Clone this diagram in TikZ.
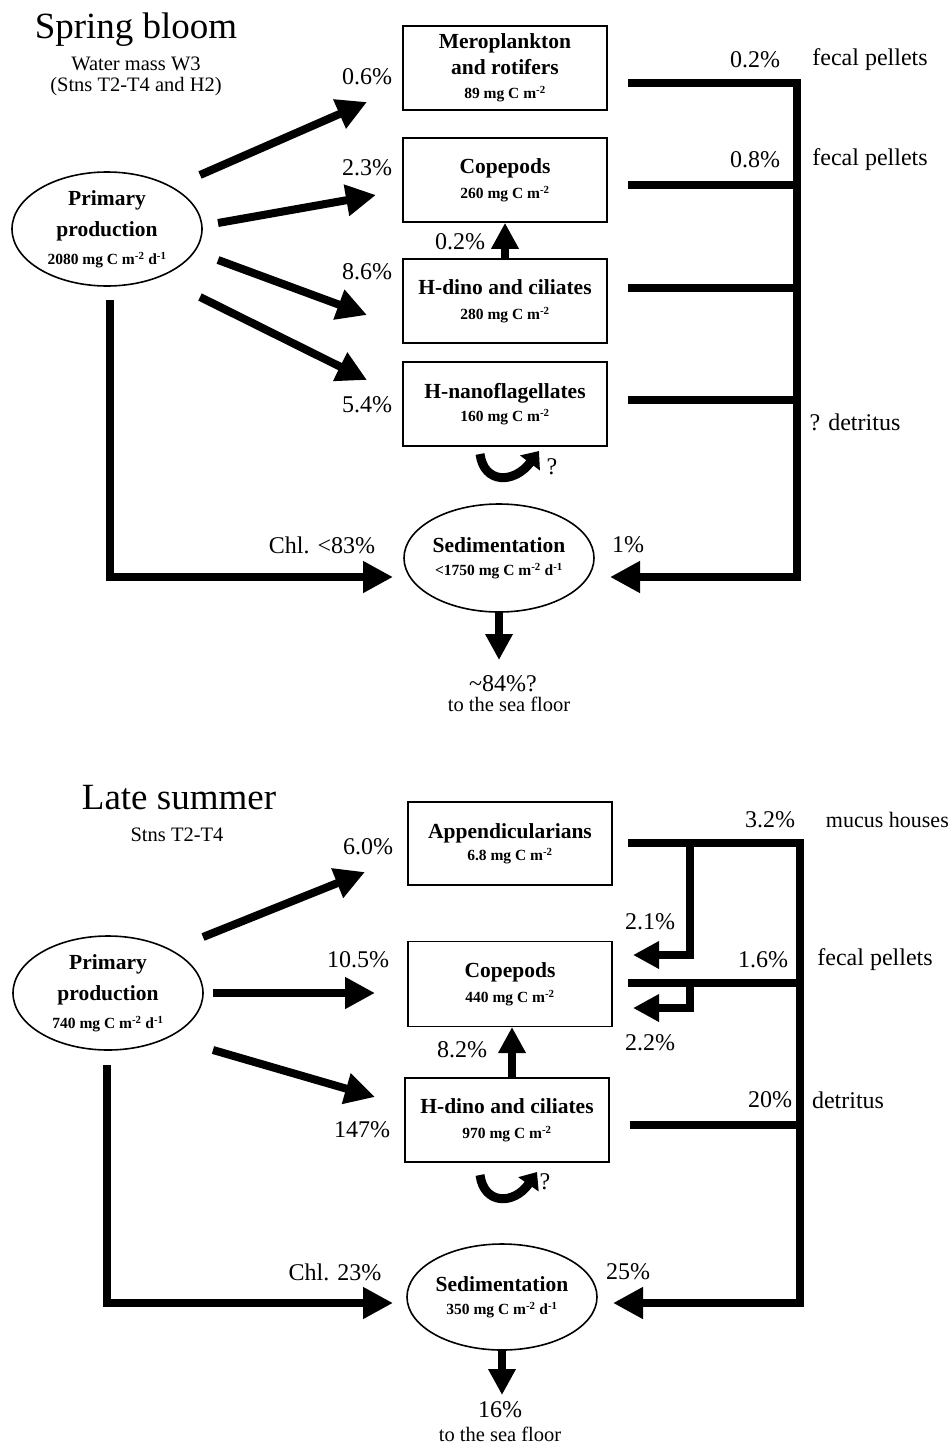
\documentclass[tikz,border=0pt]{standalone}
\usepackage{fontspec}
\setmainfont{Liberation Serif}
\usetikzlibrary{arrows.meta,shapes.geometric}
\begin{document}
\begin{tikzpicture}[x=1pt,y=-1pt,
  box/.style={draw,line width=1.6pt,minimum width=204pt,minimum height=84pt,inner sep=0pt,align=center,font=\bfseries\fontsize{21.5}{26}\selectfont},
  oval/.style={draw,ellipse,line width=1.6pt,inner sep=0pt,align=center,font=\bfseries\fontsize{21.5}{31}\selectfont},
  pct/.style={inner sep=0pt,font=\fontsize{24}{28}\selectfont},
  small/.style={inner sep=0pt,font=\fontsize{20.5}{24}\selectfont},
  ttl/.style={inner sep=0pt,font=\fontsize{37}{40}\selectfont},
  flow/.style={line width=8pt},
  big/.style={line width=8pt,-{Triangle[length=30pt,width=30pt]}},
  med/.style={line width=7.5pt,-{Triangle[length=26pt,width=26pt]}},
  curl/.style={line width=9pt,-{Triangle[length=15pt,width=24pt]}},
]
\useasboundingbox (0,0) rectangle (951,1445);
% ================= Spring bloom =================
\node[ttl] (t1) at (136,30) {Spring bloom};
\node[small] (t1a) at (136,64) {Water mass W3};
\node[small] (t1b) at (136,87) {(Stns T2-T4 and H2)};

\node[oval,minimum width=190pt,minimum height=114pt] (pp1) at (107,229)
  {Primary\\production\\[-3pt]{\fontsize{15.5}{18}\selectfont 2080 mg C m\textsuperscript{-2} d\textsuperscript{-1}}};

\node[box] (mero) at (505,68) {Meroplankton\\and rotifers\\[-2pt]{\fontsize{15.5}{18}\selectfont 89 mg C m\textsuperscript{-2}}};
\node[box] (cop1) at (505,180) {Copepods\\[-1pt]{\fontsize{15.5}{18}\selectfont 260 mg C m\textsuperscript{-2}}};
\node[box] (hd1) at (505,301) {H-dino and ciliates\\[-1pt]{\fontsize{15.5}{18}\selectfont 280 mg C m\textsuperscript{-2}}};
\node[box] (hn1) at (505,404) {H-nanoflagellates\\[-3pt]{\fontsize{15.5}{18}\selectfont 160 mg C m\textsuperscript{-2}}};

\node[oval,minimum width=190pt,minimum height=108pt] (sed1) at (499,558)
  {Sedimentation\\[-8pt]{\fontsize{15.5}{18}\selectfont <1750 mg C m\textsuperscript{-2} d\textsuperscript{-1}}};

% arrows from primary production
\coordinate (a1s) at (200,175); \coordinate (a1e) at (367,102);
\coordinate (a2s) at (218,223); \coordinate (a2e) at (376,195);
\coordinate (a3s) at (218,260); \coordinate (a3e) at (367,315);
\coordinate (a4s) at (200,297); \coordinate (a4e) at (367,380);
\draw[big] (a1s) -- (a1e);
\draw[big] (a2s) -- (a2e);
\draw[big] (a3s) -- (a3e);
\draw[big] (a4s) -- (a4e);
\node[pct] (l06) at (367,77) {0.6\%};
\node[pct] (l23) at (367,168) {2.3\%};
\node[pct] (l86) at (367,272) {8.6\%};
\node[pct] (l54) at (367,405) {5.4\%};

% H-dino -> copepods
\draw[med] (hd1.north) -- (cop1.south);
\node[pct] (l02b) at (460,242) {0.2\%};

% right collector
\coordinate (r1) at (797,83);
\coordinate (r2) at (797,185);
\coordinate (r3) at (797,288);
\coordinate (r4) at (797,400);
\coordinate (r5) at (797,577);
\coordinate (s1e) at (610,577);
\draw[flow] (628,83) -- (r1);
\draw[flow] (628,185) -- (r2);
\draw[flow] (628,288) -- (r3);
\draw[flow] (628,400) -- (r4);
\draw[flow,line cap=rect] (r1) -- (r5);
\draw[big] ([xshift=4pt]r5) -- (s1e);
\node[pct] (l02) at (755,60) {0.2\%};
\node[pct] (fp1) at (870,60) {fecal pellets};
\node[pct] (l08) at (755,160) {0.8\%};
\node[pct] (fp2) at (870,160) {fecal pellets};
\node[pct] (det1) at (855,422) {? detritus};
\node[pct] (l1) at (628,545) {1\%};

% left: chlorophyll sedimentation
\coordinate (c1a) at (110,300);
\coordinate (c1b) at (110,577);
\coordinate (c1e) at (393,577);
\draw[big] (c1a) -- (c1b) -- (c1e);
\node[pct] (chl1) at (322,545) {Chl. <83\%};

% to sea floor
\coordinate (sf1) at (499,660);
\draw[med] (sed1.south) -- (sf1);
\node[pct] (l84) at (503,684) {\textasciitilde84\%?};
\node[small] (sea1) at (509,704) {to the sea floor};

% curl
\coordinate (cu1a) at (480,454);
\coordinate (cu1b) at (539,451);
\draw[curl] (cu1a) .. controls (484,484) and (514,484) .. (cu1b);
\node[pct] (q1) at (552,467) {?};

% ================= Late summer =================
\node[ttl] (t2) at (179,798) {Late summer};
\node[small] (t2a) at (177,835) {Stns T2-T4};

\node[oval,minimum width=190pt,minimum height=114pt] (pp2) at (108,993)
  {Primary\\production\\[-3pt]{\fontsize{15.5}{18}\selectfont 740 mg C m\textsuperscript{-2} d\textsuperscript{-1}}};

\node[box,minimum height=83pt] (app) at (510,843.5) {Appendicularians\\[-4pt]{\fontsize{15.5}{18}\selectfont 6.8 mg C m\textsuperscript{-2}}};
\node[box,minimum height=85pt] (cop2) at (510,984) {Copepods\\[-1pt]{\fontsize{15.5}{18}\selectfont 440 mg C m\textsuperscript{-2}}};
\node[box] (hd2) at (507,1120) {H-dino and ciliates\\[-1pt]{\fontsize{15.5}{18}\selectfont 970 mg C m\textsuperscript{-2}}};

\node[oval,minimum width=190pt,minimum height=106pt] (sed2) at (502,1297)
  {Sedimentation\\[-8pt]{\fontsize{15.5}{18}\selectfont 350 mg C m\textsuperscript{-2} d\textsuperscript{-1}}};

\coordinate (b1s) at (203,937); \coordinate (b1e) at (365,872);
\coordinate (b2s) at (213,993); \coordinate (b2e) at (375,993);
\coordinate (b3s) at (213,1050); \coordinate (b3e) at (375,1097);
\draw[big] (b1s) -- (b1e);
\draw[big] (b2s) -- (b2e);
\draw[big] (b3s) -- (b3e);
\node[pct] (l60) at (368,847) {6.0\%};
\node[pct] (l105) at (358,960) {10.5\%};
\node[pct] (l147) at (362,1130) {147\%};

\coordinate (h2n) at (512,1078);
\coordinate (c2s) at (512,1027);
\draw[med] (h2n) -- (c2s);
\node[pct] (l82) at (462,1050) {8.2\%};

% right collector
\coordinate (q1a) at (628,843);
\coordinate (q1r) at (800,843);
\coordinate (q1b) at (690,843);
\coordinate (q1c) at (690,955);
\coordinate (q1e) at (633,955);
\coordinate (q2a) at (628,983);
\coordinate (q2r) at (800,983);
\coordinate (q2b) at (690,983);
\coordinate (q2c) at (690,1008);
\coordinate (q2e) at (633,1008);
\coordinate (q3a) at (630,1125);
\coordinate (q3r) at (800,1125);
\coordinate (q4) at (800,1303);
\coordinate (s2e) at (613,1303);
\draw[flow] (q1a) -- (q1r);
\draw[med] ([yshift=-3pt]q1b) -- (q1c) -- (q1e);
\draw[flow] (q2a) -- (q2r);
\draw[med] ([yshift=-3pt]q2b) -- (q2c) -- (q2e);
\draw[flow] (q3a) -- (q3r);
\draw[flow,line cap=rect] (q1r) -- (q4);
\draw[big] ([xshift=4pt]q4) -- (s2e);
\node[pct] (l32) at (770,820) {3.2\%};
\node[pct,font=\fontsize{22}{26}\selectfont,anchor=east] (mh) at (949,820) {mucus houses};
\node[pct] (l21) at (650,922) {2.1\%};
\node[pct] (l16) at (763,960) {1.6\%};
\node[pct] (fp3) at (875,960) {fecal pellets};
\node[pct] (l22) at (650,1043) {2.2\%};
\node[pct] (l20) at (770,1100) {20\%};
\node[pct] (det2) at (848,1100) {detritus};
\node[pct] (l25) at (628,1272) {25\%};

\coordinate (c2a) at (107,1065);
\coordinate (c2b) at (107,1303);
\coordinate (c2e) at (393,1303);
\draw[big] (c2a) -- (c2b) -- (c2e);
\node[pct] (chl2) at (335,1272) {Chl. 23\%};

\coordinate (sf2) at (502,1395);
\draw[med] (sed2.south) -- (sf2);
\node[pct] (l16b) at (500,1410) {16\%};
\node[small] (sea2) at (500,1434) {to the sea floor};

\coordinate (cu2a) at (480,1175);
\coordinate (cu2b) at (537,1172);
\draw[curl] (cu2a) .. controls (484,1205) and (514,1205) .. (cu2b);
\node[pct] (q2) at (545,1182) {?};
\end{tikzpicture}
\end{document}
